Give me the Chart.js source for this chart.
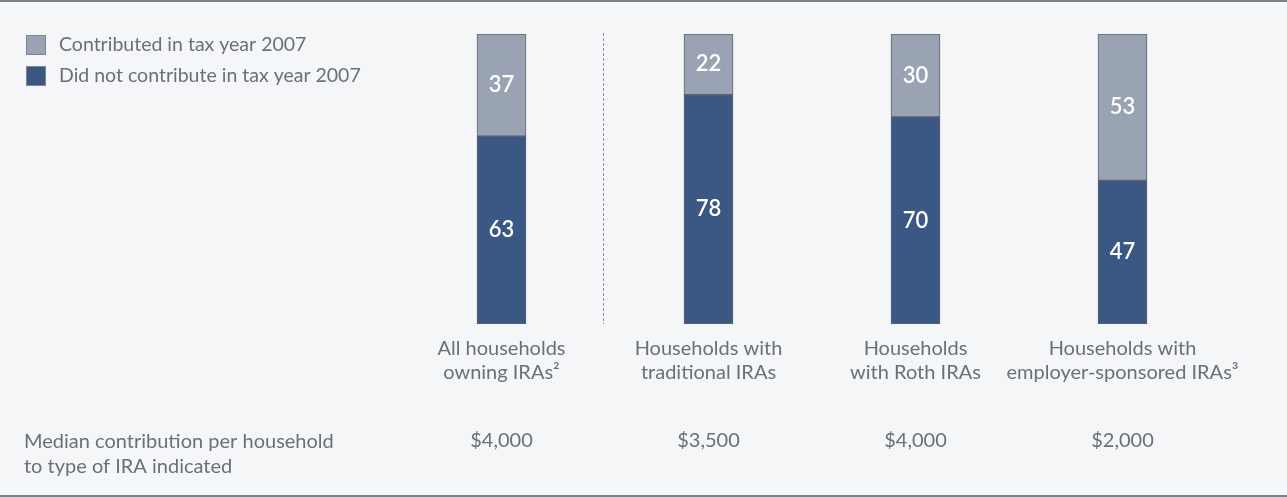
<!DOCTYPE html>
<html>
<head>
<meta charset="utf-8">
<script src="https://cdn.jsdelivr.net/npm/chart.js@4"></script>
<style>
  html, body { margin: 0; padding: 0; background: #f5f6f8; }
  #wrap { width: 1287px; height: 497px; position: relative; }
</style>
</head>
<body>
<div id="wrap"><canvas id="iraChart"></canvas></div>
<script>
const categories = [
  ['All households', 'owning IRAs²'],
  ['Households with', 'traditional IRAs'],
  ['Households', 'with Roth IRAs'],
  ['Households with', 'employer-sponsored IRAs³']
];
const didNotContribute = [63, 78, 70, 47];
const contributed      = [37, 22, 30, 53];
const medians          = ['$4,000', '$3,500', '$4,000', '$2,000'];
const medianNote       = ['Median contribution per household', 'to type of IRA indicated'];

const COLORS = {
  dark:   '#3b5783',
  light:  '#9aa3b3',
  edge:   '#5f6571',
  text:   '#6b6f78',
  rule:   '#7c8088',
  dash:   '#8c9098'
};

const FONT = "Lato, 'Open Sans', sans-serif";
Chart.defaults.font.family = FONT;
Chart.defaults.color = COLORS.text;

// ── Page decorations: rules, legend, separator, labels ────
const decor = {
  id: 'decor',
  beforeDraw(chart) {
    const { ctx, width } = chart;
    ctx.save();
    ctx.fillStyle = COLORS.rule;
    ctx.fillRect(0, 0, width, 2);
    ctx.fillRect(0, 495, width, 2);
    ctx.restore();
  },
  afterDatasetsDraw(chart) {
    const { ctx, chartArea } = chart;
    const x = chart.scales.x;
    ctx.save();

    // dashed separator after first group
    const sx = Math.round((x.getPixelForValue(0) + x.getPixelForValue(1)) / 2) - 1.5;
    ctx.strokeStyle = COLORS.dash;
    ctx.lineWidth = 1;
    ctx.setLineDash([3, 2]);
    ctx.beginPath();
    ctx.moveTo(sx, chartArea.top - 1);
    ctx.lineTo(sx, chartArea.bottom);
    ctx.stroke();
    ctx.setLineDash([]);

    // values inside the segments
    ctx.fillStyle = '#ffffff';
    ctx.font = `600 22px ${FONT}`;
    ctx.textAlign = 'center';
    ctx.textBaseline = 'middle';
    chart.data.datasets.forEach((ds, i) => {
      chart.getDatasetMeta(i).data.forEach((bar, j) => {
        ctx.fillText(String(ds.data[j]), bar.x, (bar.y + bar.base) / 2);
      });
    });

    // legend (top item = upper segment)
    ctx.font = `19.5px ${FONT}`;
    ctx.textAlign = 'left';
    [...chart.data.datasets].reverse().forEach((ds, i) => {
      const y = 35 + i * 31;
      ctx.fillStyle = '#80868f';
      ctx.fillRect(26, y, 20, 20);
      ctx.fillStyle = ds.backgroundColor;
      ctx.fillRect(27, y + 1, 18, 18);
      ctx.fillStyle = COLORS.text;
      ctx.fillText(ds.label, 59, y + 10);
    });

    // median row
    ctx.font = `20px ${FONT}`;
    ctx.textBaseline = 'alphabetic';
    ctx.fillStyle = COLORS.text;
    ctx.textAlign = 'left';
    medianNote.forEach((t, i) => ctx.fillText(t, 24, 448 + i * 25));
    ctx.textAlign = 'center';
    medians.forEach((m, i) => ctx.fillText(m, x.getPixelForValue(i), 447));

    ctx.restore();
  }
};

new Chart(document.getElementById('iraChart'), {
  type: 'bar',
  data: {
    labels: categories,
    datasets: [
      {
        label:           'Did not contribute in tax year 2007',
        data:            didNotContribute,
        backgroundColor: COLORS.dark,
        borderColor:     COLORS.edge,
        borderWidth:     1,
        borderSkipped:   false,
        barThickness:    49,
        base:            -5
      },
      {
        label:           'Contributed in tax year 2007',
        data:            contributed,
        backgroundColor: COLORS.light,
        borderColor:     COLORS.edge,
        borderWidth:     1,
        borderSkipped:   false,
        barThickness:    49
      }
    ]
  },
  options: {
    responsive: true,
    maintainAspectRatio: false,
    animation: false,
    layout: { padding: { left: 398, right: 61, top: 34, bottom: 73 } },
    plugins: {
      legend:  { display: false },
      tooltip: { enabled: false }
    },
    scales: {
      x: {
        stacked: true,
        grid:   { display: false, drawTicks: false },
        border: { display: false },
        ticks: {
          color: COLORS.text,
          font: { size: 20, lineHeight: '24px' },
          padding: 13,
          maxRotation: 0,
          autoSkip: false
        },
        afterFit: s => { s.height = 100; }
      },
      y: {
        stacked: true,
        display: false,
        min: -5,
        max: 100
      }
    }
  },
  plugins: [decor]
});
</script>
</body>
</html>
